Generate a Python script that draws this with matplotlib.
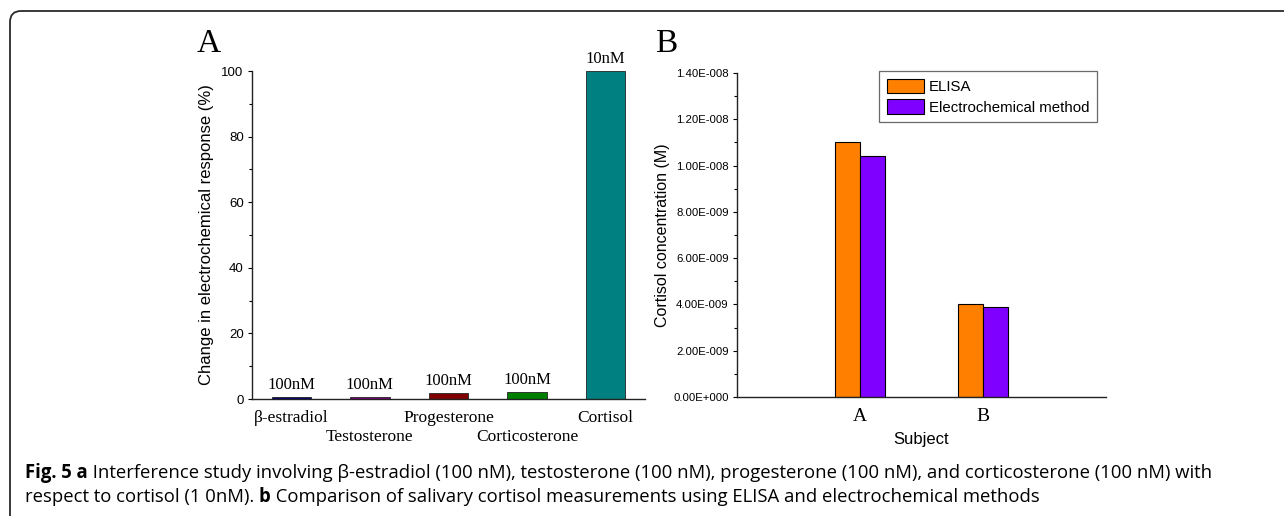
import matplotlib
matplotlib.use("Agg")
import matplotlib.pyplot as plt
from matplotlib.path import Path
from matplotlib.patches import PathPatch, Patch
import matplotlib.transforms as mtransforms
import numpy as np

# ---------------- data ----------------
steroids = ["β-estradiol", "Testosterone", "Progesterone", "Corticosterone", "Cortisol"]
response_change = [0.5, 0.7, 1.7, 2.2, 100.0]
concentrations = ["100nM", "100nM", "100nM", "100nM", "10nM"]
steroid_colors = ["#000080", "#800080", "#800000", "#008000", "#008080"]

subjects = ["A", "B"]
elisa_values = [1.100e-8, 4.00e-9]
electrochem_values = [1.043e-8, 3.91e-9]
method_names = ["ELISA", "Electrochemical method"]
method_colors = ["#FF8000", "#8000FF"]

caption_line1 = [("Fig. 5 a", True),
                 (" Interference study involving β-estradiol (100 nM), testosterone (100 nM), "
                  "progesterone (100 nM), and corticosterone (100 nM) with", False)]
caption_line2 = [("respect to cortisol (1 0nM). ", False), ("b", True),
                 (" Comparison of salivary cortisol measurements using ELISA and electrochemical methods", False)]

# ---------------- figure ----------------
W, H = 1284, 516
DPI = 100
fig = plt.figure(figsize=(W / DPI, H / DPI), dpi=DPI)
fig.patch.set_facecolor("white")

SERIF = ["Liberation Serif", "DejaVu Serif"]
SANS = ["Liberation Sans", "DejaVu Sans"]
CAP = ["Open Sans", "DejaVu Sans"]


def fx(px):
    return px / W


def fy(py):
    return 1 - py / H


# panel frame (rounded top-left corner)
r = 11
verts = [(fx(10), fy(H + 5)), (fx(10), fy(11 + r)), (fx(10), fy(11)), (fx(10 + r), fy(11)), (fx(W + 5), fy(11))]
codes = [Path.MOVETO, Path.LINETO, Path.CURVE3, Path.CURVE3, Path.LINETO]
fig.add_artist(PathPatch(Path(verts, codes), transform=fig.transFigure, fill=False,
                         edgecolor="#2a2a2a", lw=1.3))

# ---------------- panel A ----------------
axA = fig.add_axes([fx(252), fy(399), fx(645) - fx(252), fy(71) - fy(399)])
x = np.arange(len(steroids))
bars = axA.bar(x, response_change, width=0.5, color=steroid_colors, edgecolor="#222222", linewidth=0.6)
axA.set_xlim(-0.5, 4.5)
axA.set_ylim(0, 100)
axA.set_yticks([0, 20, 40, 60, 80, 100])
axA.set_yticks([10, 30, 50, 70, 90], minor=True)
axA.set_xticks(x)
axA.set_xticklabels([])
axA.tick_params(axis="x", length=0)
# staggered category labels
blend = mtransforms.blended_transform_factory(axA.transData, axA.transAxes)
for i, name in enumerate(steroids):
    off_px = -19 if i % 2 == 0 else -38
    tr = blend + mtransforms.ScaledTranslation(0, off_px / DPI, fig.dpi_scale_trans)
    axA.text(x[i], 0, name, transform=tr, ha="center", va="center",
             fontfamily=SERIF, fontsize=12.5)
for lab in axA.get_yticklabels():
    lab.set_fontfamily(SANS)
    lab.set_fontsize(9.5)
axA.tick_params(axis="y", which="major", length=3, width=0.8, pad=3)
axA.tick_params(axis="y", which="minor", length=2, width=0.8)
axA.bar_label(bars, labels=concentrations, padding=3, fontfamily=SERIF, fontsize=12)
axA.set_ylabel("Change in electrochemical response (%)", fontfamily=SANS, fontsize=12, labelpad=5)
for s in ["top", "right"]:
    axA.spines[s].set_visible(False)
for s in ["left", "bottom"]:
    axA.spines[s].set_linewidth(1.0)
    axA.spines[s].set_color("#222222")
fig.text(fx(209), fy(44), "A", fontfamily=SERIF, fontsize=24, ha="center", va="center")

# ---------------- panel B ----------------
axB = fig.add_axes([fx(737), fy(397), fx(1106) - fx(737), fy(73) - fy(397)])
xs = np.arange(1, len(subjects) + 1)
bw = 0.2
axB.bar(xs - bw / 2, elisa_values, width=bw, color=method_colors[0], edgecolor="black", linewidth=0.8,
        label=method_names[0])
axB.bar(xs + bw / 2, electrochem_values, width=bw, color=method_colors[1], edgecolor="black", linewidth=0.8,
        label=method_names[1])
axB.set_xlim(0, 3)
axB.set_ylim(0, 1.4e-8)
yt = np.arange(0, 8) * 2e-9
axB.set_yticks(yt)
axB.set_yticks(np.arange(0, 7) * 2e-9 + 1e-9, minor=True)


def sci_label(v):
    if v == 0:
        return "0.00E+000"
    e = int(np.floor(np.log10(abs(v)) + 1e-9))
    m = v / 10 ** e
    return "%.2fE-%03d" % (m, -e)


axB.set_yticklabels([sci_label(v) for v in yt], fontfamily=SANS, fontsize=8.2)
axB.set_xticks(xs)
axB.set_xticklabels(subjects, fontfamily=SERIF, fontsize=14)
axB.tick_params(axis="x", length=0, pad=8)
axB.tick_params(axis="y", which="major", length=3, width=0.8, pad=3)
axB.tick_params(axis="y", which="minor", length=2, width=0.8)
axB.set_ylabel("Cortisol concentration (M)", fontfamily=SANS, fontsize=11.5, labelpad=2)
axB.set_xlabel("Subject", fontfamily=SANS, fontsize=12, labelpad=5)
for s in ["top", "right"]:
    axB.spines[s].set_visible(False)
for s in ["left", "bottom"]:
    axB.spines[s].set_linewidth(1.0)
    axB.spines[s].set_color("#222222")
handles = [Patch(facecolor=c, edgecolor="black", linewidth=0.8) for c in method_colors]
leg = axB.legend(handles, method_names, loc="upper left",
                 bbox_to_anchor=(fx(879), fy(71)), bbox_transform=fig.transFigure,
                 prop={"family": SANS, "size": 10.8}, frameon=True, fancybox=False,
                 edgecolor="#444444", borderpad=0.5, handlelength=2.5, handleheight=1.15,
                 handletextpad=0.35, labelspacing=0.35, borderaxespad=0)
leg.get_frame().set_linewidth(0.9)
fig.text(fx(666), fy(44), "B", fontfamily=SERIF, fontsize=24, ha="center", va="center")

# ---------------- caption ----------------
fig.canvas.draw()
renderer = fig.canvas.get_renderer()


def draw_line(segments, x0_px, baseline_px):
    xpos = x0_px
    for txt, bold in segments:
        t = fig.text(fx(xpos), fy(baseline_px), txt, fontfamily=CAP, fontsize=13.35,
                     fontweight="bold" if bold else "normal", ha="left", va="baseline")
        bb = t.get_window_extent(renderer=renderer)
        xpos += bb.width


draw_line(caption_line1, 25, 478)
draw_line(caption_line2, 25, 502)

fig.savefig("out.png", dpi=DPI, facecolor="white")
